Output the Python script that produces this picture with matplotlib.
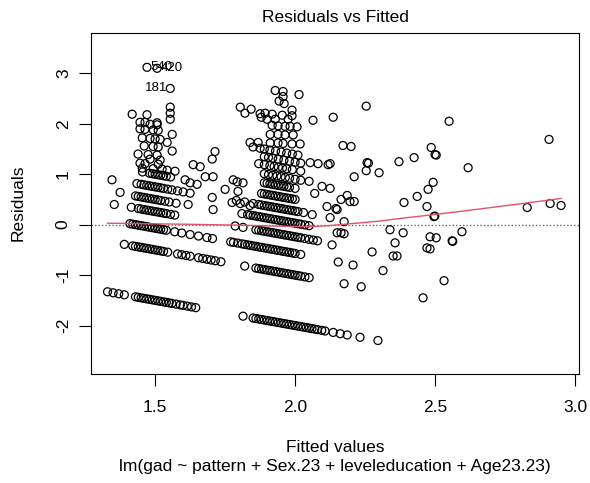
import numpy as np
import matplotlib.pyplot as plt

plt.rcParams['font.family'] = ['Liberation Sans', 'DejaVu Sans']

# Observed gad takes few distinct values, so the residuals (gad - fitted)
# form diagonal bands. Each band: observed gad level + the fitted values read off.
nivel_a = [0.0, 1.0, 1.43, 1.76, 2.0, 2.25, 2.5]
ajuste_a = [
    [1.33, 1.35, 1.37, 1.39, 1.43, 1.44, 1.45, 1.46, 1.47, 1.48, 1.49, 1.50, 1.51,
     1.52, 1.53, 1.54, 1.55, 1.56, 1.575, 1.59, 1.60, 1.615, 1.63, 1.645],
    [1.39, 1.42, 1.43, 1.44, 1.45, 1.46, 1.47, 1.48, 1.49, 1.50, 1.51, 1.52, 1.53,
     1.545, 1.58, 1.595, 1.61, 1.625, 1.655, 1.67, 1.685, 1.70, 1.715, 1.735],
    [1.41, 1.42, 1.43, 1.44, 1.45, 1.46, 1.47, 1.48, 1.49, 1.50, 1.51, 1.52, 1.53,
     1.54, 1.57, 1.595, 1.625, 1.655, 1.685, 1.705],
    [1.415, 1.44, 1.45, 1.46, 1.47, 1.48, 1.49, 1.50, 1.51, 1.52, 1.53, 1.54, 1.555, 1.57],
    [1.43, 1.44, 1.45, 1.46, 1.47, 1.48, 1.49, 1.50, 1.51, 1.52, 1.535, 1.55, 1.575],
    [1.435, 1.45, 1.46, 1.47, 1.48, 1.49, 1.50, 1.51, 1.52, 1.53, 1.545, 1.56, 1.58,
     1.60, 1.625],
    [1.455, 1.48, 1.49, 1.50, 1.51, 1.52, 1.53, 1.54, 1.555],
]

nivel_b = [0.0, 1.0, 1.43, 1.76, 2.03, 2.27, 2.5, 2.72, 2.9, 3.08, 3.24, 3.39]
ajuste_b = [
    [1.814, 1.85, 1.86, 1.87, 1.88, 1.89, 1.90, 1.91, 1.92, 1.93, 1.94, 1.95, 1.96,
     1.97, 1.98, 1.99, 2.00, 2.01, 2.02, 2.03, 2.04, 2.05, 2.06, 2.07, 2.08, 2.095,
     2.107, 2.136, 2.161, 2.186, 2.232, 2.296],
    [1.82, 1.86, 1.87, 1.88, 1.89, 1.90, 1.91, 1.92, 1.93, 1.94, 1.95, 1.96, 1.97,
     1.98, 1.99, 2.00, 2.01, 2.02, 2.035, 2.05],
    [1.77, 1.78, 1.795, 1.81, 1.82, 1.83, 1.84, 1.85, 1.86, 1.87, 1.88, 1.89, 1.90,
     1.91, 1.92, 1.93, 1.94, 1.95, 1.96, 1.97, 1.98, 1.99, 2.00, 2.02],
    [1.786, 1.814, 1.86, 1.87, 1.88, 1.89, 1.90, 1.91, 1.92, 1.93, 1.94, 1.95, 1.96,
     1.97, 1.98, 1.99, 2.00, 2.01, 2.02, 2.035, 2.05, 2.065, 2.08],
    [1.81, 1.83, 1.84, 1.85, 1.86, 1.87, 1.88, 1.89, 1.90, 1.91, 1.92, 1.93, 1.94,
     1.95, 1.96, 1.97, 1.98, 1.99, 2.00, 2.01, 2.02, 2.035, 2.05],
    [1.79, 1.82, 1.85, 1.87, 1.88, 1.89, 1.90, 1.91, 1.92, 1.93, 1.94, 1.95, 1.96,
     1.97, 1.98, 1.99, 2.00, 2.01, 2.03],
    [1.88, 1.89, 1.90, 1.91, 1.92, 1.93, 1.94, 1.95, 1.96, 1.97, 1.98, 1.99, 2.00],
    [1.89, 1.90, 1.91, 1.92, 1.93, 1.94, 1.95, 1.96, 1.97, 1.98, 2.00],
    [1.89, 1.905, 1.92, 1.935, 1.95, 1.965, 1.98, 2.00, 2.02],
    [1.87, 1.89, 1.91, 1.925, 1.94, 1.955, 1.97, 1.99, 2.02],
    [1.89, 1.905, 1.92, 1.94, 1.96, 1.98, 2.00, 2.02],
    [1.85, 1.875, 1.89, 1.91, 1.93, 1.95, 1.97, 1.99, 2.01],
]

# Pontos soltos (fitted, residual)
soltos_x = [
    1.346, 1.375, 1.354, 1.454, 1.493, 1.525, 1.543, 1.571, 1.446, 1.464, 1.511,
    1.482, 1.518, 1.439, 1.475, 1.507, 1.561, 1.461, 1.493, 1.511, 1.543, 1.454,
    1.482, 1.500, 1.518, 1.561, 1.446, 1.464, 1.493, 1.511, 1.482, 1.507, 1.446,
    1.464, 1.507, 1.418, 1.471, 1.554, 1.554, 1.554, 1.554, 1.471, 1.507,
    1.636, 1.661, 1.679, 1.707, 1.714, 1.704, 1.750, 1.625, 1.650, 1.607, 1.704,
    1.707, 1.618, 1.779, 1.814, 1.796, 1.775, 1.804, 1.839, 1.793,
    1.839, 1.868, 1.911, 1.939, 1.957, 1.989, 2.018, 1.911, 1.939, 1.964, 1.993,
    1.918, 1.939, 1.964, 1.982, 2.007, 1.900, 1.929, 1.975, 1.875, 1.893, 1.918,
    1.954, 1.989, 1.804, 1.821, 1.843, 1.879, 1.943, 1.961, 1.929, 1.957, 1.957,
    2.014, 1.989, 2.064, 2.054, 2.082, 2.118, 2.125, 2.096, 2.125, 2.114, 2.146,
    2.061, 2.125, 2.050, 2.070,
    2.254, 2.136, 2.550, 2.171, 2.200, 2.486, 2.500, 2.504, 2.257, 2.262, 2.254,
    2.300, 2.371, 2.425, 2.618, 2.211, 2.493, 2.475, 2.436, 2.389, 2.471, 2.496,
    2.499, 2.164, 2.196, 2.211, 2.186, 2.150, 2.175, 2.150, 2.164, 2.175, 2.132,
    2.339, 2.386, 2.357, 2.350, 2.364, 2.482, 2.504, 2.471, 2.482, 2.561, 2.563,
    2.596, 2.275, 2.154, 2.207, 2.314, 2.175, 2.236, 2.532, 2.457,
    2.907, 2.829, 2.911, 2.950,
]
soltos_y = [
    0.89, 0.64, 0.40, 1.12, 1.11, 1.10, 1.08, 1.06, 1.22, 1.21, 1.20,
    1.30, 1.28, 1.40, 1.39, 1.38, 1.46, 1.56, 1.55, 1.54, 1.63, 1.72,
    1.71, 1.70, 1.69, 1.79, 1.90, 1.89, 1.88, 1.87, 1.99, 1.98, 2.03,
    2.03, 2.02, 2.19, 2.18, 2.33, 2.21, 2.09, 2.70, 3.12, 3.10,
    1.19, 1.15, 0.95, 0.95, 1.45, 1.30, 0.70, 0.83, 0.80, 0.89, 0.54,
    0.30, 0.40, 0.89, 0.83, 0.66, 0.44, 0.42, 0.38, 0.85,
    1.63, 1.63, 1.62, 1.62, 1.61, 1.60, 1.60, 1.79, 1.79, 1.78, 1.78,
    1.97, 1.96, 1.95, 1.95, 1.94, 2.09, 2.09, 2.09, 2.20, 2.21, 2.19,
    2.17, 2.16, 2.33, 2.21, 2.29, 2.13, 2.45, 2.40, 2.66, 2.64, 2.54,
    2.58, 2.27, 2.07, 1.23, 1.21, 1.19, 1.21, 0.76, 0.72, 0.36, 0.32,
    0.20, 0.14, 0.86, 0.62,
    2.35, 2.13, 2.05, 1.57, 1.55, 1.53, 1.39, 1.38, 1.23, 1.22, 1.07,
    1.03, 1.25, 1.33, 1.13, 0.95, 0.84, 0.70, 0.56, 0.44, 0.36, 0.16,
    0.17, 0.50, 0.46, 0.46, 0.58, 0.30, 0.06, -0.16, -0.16, -0.18, -0.40,
    -0.10, -0.16, -0.36, -0.62, -0.62, -0.24, -0.26, -0.46, -0.48, -0.32, -0.33,
    -0.14, -0.54, -0.74, -0.80, -0.91, -1.17, -1.23, -1.11, -1.45,
    1.69, 0.34, 0.42, 0.38,
]

# Pontos identificados (indices das observações)
rotulos = ["540", "420", "181"]
rot_x = [1.471, 1.507, 1.554]
rot_y = [3.12, 3.10, 2.70]

# Curva suavizada (lowess)
suave_x = [1.33, 1.45, 1.6, 1.8, 1.95, 2.05, 2.12, 2.2, 2.3, 2.4, 2.45, 2.6, 2.8, 2.95]
suave_y = [0.03, 0.02, 0.01, -0.01, -0.03, -0.04, -0.02, 0.02, 0.07, 0.14, 0.17, 0.27, 0.41, 0.52]

# Juntando tudo em fitted / residual
fx, ry = [], []
for niveis, ajustes in [(nivel_a, ajuste_a), (nivel_b, ajuste_b)]:
    for g, f in zip(niveis, ajustes):
        f = np.array(f)
        fx.extend(f)
        ry.extend(g - f)
fx.extend(soltos_x)
ry.extend(soltos_y)

fig = plt.figure(figsize=(5.9, 4.83), dpi=100)
ax = fig.add_axes([91/590, 1 - 374/483, (579 - 91)/590, (374 - 33)/483])

ax.axhline(0, color='#666666', lw=1, ls=(0, (1, 1.5)), zorder=1)
ax.scatter(fx, ry, s=33, facecolors='none', edgecolors='black', linewidths=0.9, zorder=2)
ax.plot(suave_x, suave_y, color='#DF536B', lw=1, zorder=3)

# rótulos dos pontos extremos (sobrepostos como no original)
ax.text(rot_x[0] + 0.012, rot_y[0], rotulos[0], fontsize=9.5, va='center', ha='left')
ax.text(rot_x[1] + 0.012, rot_y[1], rotulos[1], fontsize=9.5, va='center', ha='left')
ax.text(rot_x[2] - 0.012, rot_y[2], rotulos[2], fontsize=9.5, va='center', ha='right')

ax.set_xlim(1.271, 3.014)
ax.set_ylim(-2.96, 3.80)
ax.set_xticks([1.5, 2.0, 2.5, 3.0])
ax.set_xticklabels(["1.5", "2.0", "2.5", "3.0"])
ax.set_yticks([-2, -1, 0, 1, 2, 3])
ax.set_yticklabels(["-2", "-1", "0", "1", "2", "3"], rotation=90, va='center')
ax.tick_params(axis='both', length=8.5, width=0.8, labelsize=12.5, direction='out')
ax.tick_params(axis='x', pad=10)
ax.tick_params(axis='y', pad=6)
for s in ax.spines.values():
    s.set_linewidth(0.8)

fig.text(335/590, 1 - 18/483, "Residuals vs Fitted", ha='center', va='center', fontsize=12.5)
fig.text(335/590, 1 - 447/483, "Fitted values", ha='center', va='center', fontsize=12.5)
fig.text(335/590, 1 - 467/483, "lm(gad ~ pattern + Sex.23 + leveleducation + Age23.23)",
         ha='center', va='center', fontsize=12.5)
fig.text(18/590, 1 - 203/483, "Residuals", ha='center', va='center', rotation=90, fontsize=12.5)

fig.savefig("out.png", dpi=100)
